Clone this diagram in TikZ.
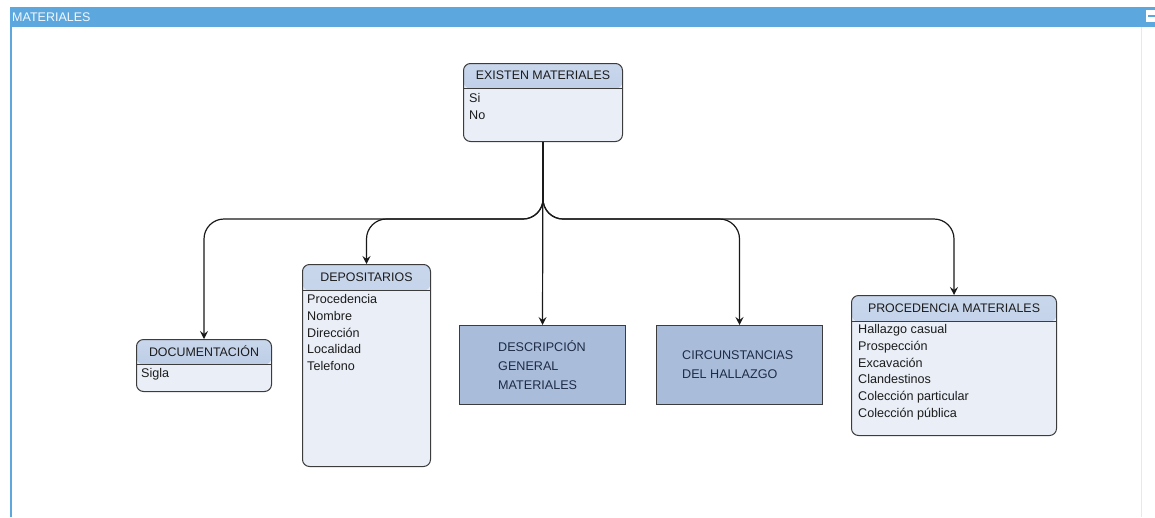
\documentclass[tikz,border=0pt]{standalone}
\usepackage{fontspec}
\setmainfont{Liberation Sans}
\usetikzlibrary{arrows.meta}

\definecolor{barblue}{HTML}{5DA7DF}
\definecolor{barline}{HTML}{DDEBF7}
\definecolor{headtop}{HTML}{C9D7EC}
\definecolor{headbot}{HTML}{AEC2DF}
\definecolor{bodyfill}{HTML}{E9EEF7}
\definecolor{rectfill}{HTML}{A9BDDB}
\definecolor{edge}{HTML}{3C3C3C}
\definecolor{txt}{HTML}{1C1C1C}
\definecolor{recttxt}{HTML}{1E2B45}

\begin{document}
\begin{tikzpicture}[x=1pt,y=-1pt,
  classbox/.style={draw=edge, line width=1pt, rounded corners=7pt, fill=bodyfill,
    anchor=north west, inner sep=0pt,
    path picture={
      \fill[top color=headtop, bottom color=headbot]
        (path picture bounding box.north west) rectangle
        ([yshift=-#1]path picture bounding box.north east);
      \draw[edge, line width=0.9pt]
        ([yshift=-#1]path picture bounding box.north west) --
        ([yshift=-#1]path picture bounding box.north east);}},
  plainbox/.style={draw=edge, line width=1pt, fill=rectfill, anchor=north west, inner sep=0pt},
  headtxt/.style={font=\fontsize{12.4}{14}\selectfont, text=txt, inner sep=0pt},
  items/.style={font=\fontsize{12.6}{16.7}\selectfont, text=txt, align=left, anchor=north west, inner sep=0pt},
  boxtxt/.style={font=\fontsize{12.6}{19}\selectfont, text=recttxt, align=left, anchor=north west, inner sep=0pt},
  conn/.style={draw=black!90, line width=1.2pt, rounded corners=20pt,
    -{Stealth[length=8pt, width=8pt, inset=3pt]}}
]
\useasboundingbox (0,0) rectangle (1155,517);

% window frame
\fill[barblue] (10,7) rectangle (1155,27);
\draw[barblue, line width=2pt] (11,7) -- (11,517);
\draw[barline, line width=0.8pt] (1141,27) -- (1141,517);
\node[font=\fontsize{12.5}{14}\selectfont, text=white!92!barblue, anchor=west, inner sep=0pt] (title) at (12,17) {MATERIALES};
\fill[white] (1146,9.5) rectangle (1155,22);
\draw[barblue, line width=1.5pt] (1148,16) -- (1155,16);

% boxes
\node[classbox=25pt, minimum width=159pt, minimum height=78pt] (ex) at (463,63) {};
\node[headtxt] (exh) at ([yshift=-12.5pt]ex.north) {EXISTEN MATERIALES};
\node[items] (exi) at (469,93.5) {Si\\No};

\node[classbox=25pt, minimum width=135pt, minimum height=52pt] (doc) at (136,339) {};
\node[headtxt] (doch) at ([yshift=-12.5pt]doc.north) {DOCUMENTACIÓN};
\node[items] (doci) at (141,368.5) {Sigla};

\node[classbox=26pt, minimum width=128pt, minimum height=202pt] (dep) at (302,264) {};
\node[headtxt] (deph) at ([yshift=-13pt]dep.north) {DEPOSITARIOS};
\node[items] (depi) at (307,294.5) {Procedencia\\Nombre\\Dirección\\Localidad\\Telefono};

\node[plainbox, minimum width=166pt, minimum height=79pt] (desc) at (459,325) {};
\node[boxtxt] (desct) at (498,340.4) {DESCRIPCIÓN\\GENERAL\\MATERIALES};

\node[plainbox, minimum width=166pt, minimum height=79pt] (circ) at (656,325) {};
\node[boxtxt] (circt) at (682,350.4) {CIRCUNSTANCIAS\\DEL HALLAZGO};

\node[classbox=26pt, minimum width=205pt, minimum height=140pt] (proc) at (851,295) {};
\node[headtxt] (proch) at ([yshift=-13pt]proc.north) {PROCEDENCIA MATERIALES};
\node[items] (proci) at (858,324.5) {Hallazgo casual\\Prospección\\Excavación\\Clandestinos\\Colección particular\\Colección pública};

% connectors
\coordinate (fork) at ([yshift=-77pt]ex.south);
\draw[conn] (ex.south) -- (fork) -| (doc.north);
\draw[conn] (ex.south) -- (fork) -| (dep.north);
\draw[conn] (ex.south) -- (desc.north);
\draw[conn] (ex.south) -- (fork) -| (circ.north);
\draw[conn] (ex.south) -- (fork) -| (proc.north);
\end{tikzpicture}
\end{document}
